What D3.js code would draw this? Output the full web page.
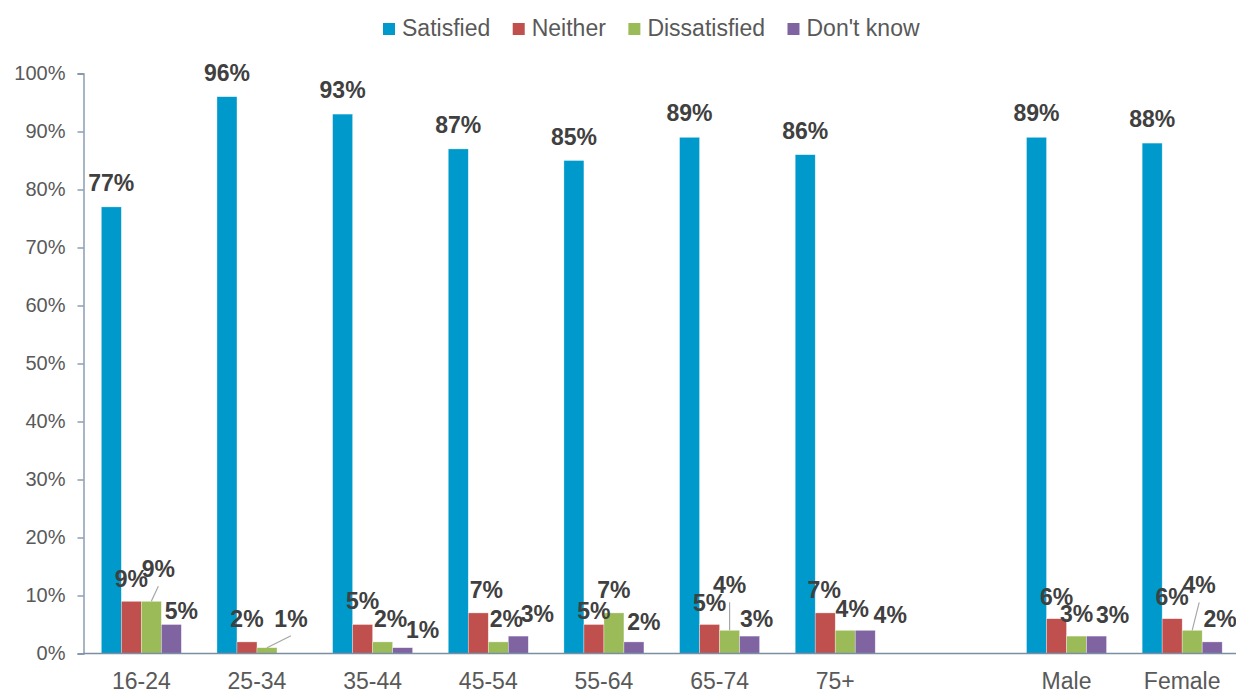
<!DOCTYPE html>
<html>
<head>
<meta charset="utf-8">
<script src="https://cdn.jsdelivr.net/npm/d3@7"></script>
<style>
  html, body { margin: 0; padding: 0; background: #fff; }
  svg { display: block; font-family: "Liberation Sans", Arial, sans-serif; }
</style>
</head>
<body>
<svg id="chart" width="1236" height="692"></svg>
<script>
// Satisfaction by age group and gender (percent of respondents)
const categories = ["16-24", "25-34", "35-44", "45-54", "55-64", "65-74", "75+", "", "Male", "Female"];
const seriesNames = ["Satisfied", "Neither", "Dissatisfied", "Don't know"];
const satisfied    = [77, 96, 93, 87, 85, 89, 86, null, 89, 88];
const neither      = [9, 2, 5, 7, 5, 5, 7, null, 6, 6];
const dissatisfied = [9, 1, 2, 2, 7, 4, 4, null, 3, 4];
const dontKnow     = [5, 0, 1, 3, 2, 3, 4, null, 3, 2];
const yTicks = [0, 10, 20, 30, 40, 50, 60, 70, 80, 90, 100];

const colors = ["#0099cc", "#c0504d", "#9bbb59", "#8064a2"];

// Hand-placed label nudges [dx, dy] for the small bars, so crowded labels stay readable
const nudgeNeither      = [[0, 2], [0, 1], [0, 0], [8, 1], [0, 10], [0, 2], [-1, 1], null, [0, 2], [0, 2]];
const nudgeDissatisfied = [[7, -8], [24, -5], [8, 1], [8, 1], [0, 1], [0, -21], [7, 3], null, [0, 2], [7, -21]];
const nudgeDontKnow     = [[10, 10], [0, 0], [20, 6], [19, 2], [10, 4], [7, 7], [25, 9], null, [16, 3], [8, 1]];
// Labels that get a connector line back to their bar
const leaderDissatisfied = [true, true, false, false, false, true, false, false, false, true];

const seriesValues = [satisfied, neither, dissatisfied, dontKnow];
const seriesNudges = [null, nudgeNeither, nudgeDissatisfied, nudgeDontKnow];
const seriesLeaders = [null, null, leaderDissatisfied, null];

const svg = d3.select("#chart");

const x = d3.scaleBand()
  .domain(categories.map((c, i) => i))
  .range([83.5, 1240])
  .paddingInner(0.308)
  .paddingOuter(0.154);

const xs = d3.scaleBand()
  .domain(d3.range(seriesNames.length))
  .range([0, x.bandwidth()]);

const y = d3.scaleLinear().domain([0, 100]).range([653.5, 73.5]);

const axisColor = "#7b8fa4";

// Y axis
const yAxis = svg.append("g")
  .attr("transform", `translate(${x.range()[0]},0)`)
  .call(d3.axisLeft(y).tickValues(yTicks).tickFormat(d => d + "%").tickSize(6).tickPadding(12));
yAxis.select(".domain").attr("stroke", axisColor).attr("stroke-width", 1.3);
yAxis.selectAll(".tick line").attr("stroke", axisColor).attr("stroke-width", 1.3);
yAxis.selectAll(".tick text")
  .attr("fill", "#595959")
  .style("font-size", "20px")
  .style("font-family", "'Liberation Sans', Arial, sans-serif");

// Bars
seriesValues.forEach((vals, s) => {
  svg.append("g")
    .selectAll("rect")
    .data(vals.map((v, i) => ({ v, i })).filter(d => d.v !== null && d.v > 0))
    .join("rect")
    .attr("x", d => x(d.i) + xs(s))
    .attr("width", xs.bandwidth())
    .attr("y", d => y(d.v))
    .attr("height", d => y(0) - y(d.v))
    .attr("fill", colors[s])
    .attr("stroke", "#ffffff")
    .attr("stroke-opacity", 0.55)
    .attr("stroke-width", 0.6);
});

// X axis line and category labels
const xAxis = svg.append("g")
  .attr("transform", `translate(0,${y(0)})`)
  .call(d3.axisBottom(x).tickSize(0).tickPadding(19).tickFormat(i => categories[i]));
xAxis.select(".domain")
  .attr("d", `M${x.range()[0]},0H1236`)
  .attr("stroke", axisColor)
  .attr("stroke-width", 1.3);
xAxis.selectAll(".tick text")
  .attr("fill", "#595959")
  .attr("dy", "0.71em")
  .style("font-size", "23px")
  .style("font-family", "'Liberation Sans', Arial, sans-serif");

// Value labels and leader lines
const labelGap = 16;
seriesValues.forEach((vals, s) => {
  vals.forEach((v, i) => {
    if (v === null || v === 0) return;
    const cx = x(i) + xs(s) + xs.bandwidth() / 2;
    const top = y(v);
    const n = seriesNudges[s] ? seriesNudges[s][i] : [0, 0];
    const lx = cx + n[0];
    const ly = top - labelGap + n[1];
    if (seriesLeaders[s] && seriesLeaders[s][i]) {
      svg.append("line")
        .attr("x1", lx).attr("y1", ly + 9)
        .attr("x2", cx).attr("y2", top)
        .attr("stroke", "#a6a6a6")
        .attr("stroke-width", 1.2);
    }
    svg.append("text")
      .attr("x", lx)
      .attr("y", ly)
      .attr("text-anchor", "middle")
      .attr("fill", "#404040")
      .style("font-size", "23px")
      .style("font-weight", "bold")
      .text(v + "%");
  });
});

// Legend
const legend = svg.append("g").attr("transform", "translate(383,0)");
let lx = 0;
seriesNames.forEach((name, s) => {
  const g = legend.append("g").attr("transform", `translate(${lx},0)`);
  g.append("rect")
    .attr("x", 0).attr("y", 23)
    .attr("width", 12).attr("height", 12)
    .attr("fill", colors[s]);
  const t = g.append("text")
    .attr("x", 19).attr("y", 36)
    .attr("fill", "#595959")
    .style("font-size", "23px")
    .text(name);
  lx += 19 + t.node().getComputedTextLength() + 22.5;
});
</script>
</body>
</html>
